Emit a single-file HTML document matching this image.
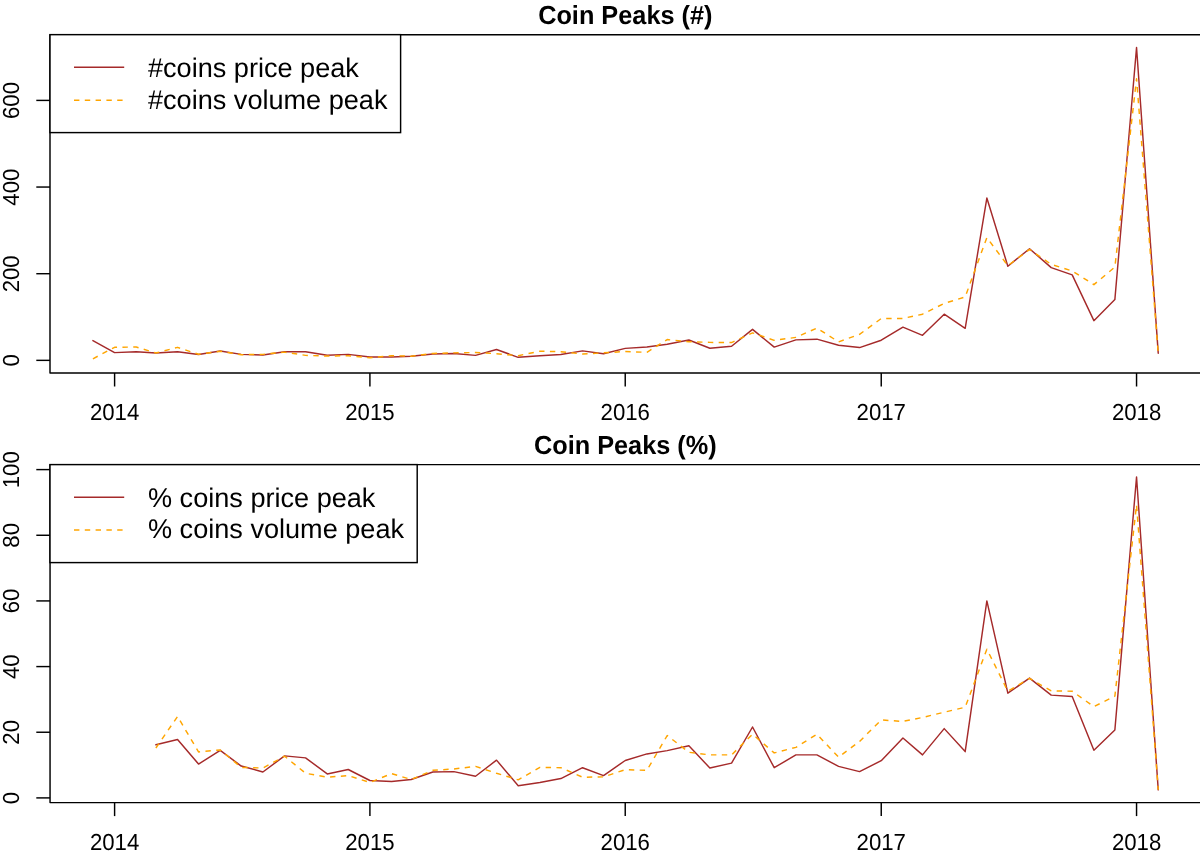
<!DOCTYPE html>
<html><head><meta charset="utf-8"><title>Coin Peaks</title>
<style>
html,body{margin:0;padding:0;background:#fff;}
body{width:1200px;height:857px;overflow:hidden;}
svg{display:block;font-family:"Liberation Sans", sans-serif;will-change:transform;text-rendering:geometricPrecision;}
</style></head>
<body>
<svg width="1200" height="857" viewBox="0 0 1200 857">
<rect width="1200" height="857" fill="#fff"/>
<path d="M1201 34.65 H50.0 V373.0 H1201" fill="none" stroke="#000" stroke-width="1.45" stroke-linejoin="round"/>
<line x1="36.3" y1="360.35" x2="50.0" y2="360.35" stroke="#000" stroke-width="1.45"/>
<text transform="translate(18.75 360.45) rotate(-90) scale(1 1.045)" text-anchor="middle" font-size="22.2">0</text>
<line x1="36.3" y1="273.70" x2="50.0" y2="273.70" stroke="#000" stroke-width="1.45"/>
<text transform="translate(18.75 273.80) rotate(-90) scale(1 1.045)" text-anchor="middle" font-size="22.2">200</text>
<line x1="36.3" y1="187.05" x2="50.0" y2="187.05" stroke="#000" stroke-width="1.45"/>
<text transform="translate(18.75 187.15) rotate(-90) scale(1 1.045)" text-anchor="middle" font-size="22.2">400</text>
<line x1="36.3" y1="100.40" x2="50.0" y2="100.40" stroke="#000" stroke-width="1.45"/>
<text transform="translate(18.75 100.50) rotate(-90) scale(1 1.045)" text-anchor="middle" font-size="22.2">600</text>
<line x1="114.60" y1="373.0" x2="114.60" y2="386.5" stroke="#000" stroke-width="1.45"/>
<text transform="translate(114.60 420.20) scale(1 1.045)" text-anchor="middle" font-size="22.2">2014</text>
<line x1="369.91" y1="373.0" x2="369.91" y2="386.5" stroke="#000" stroke-width="1.45"/>
<text transform="translate(369.91 420.20) scale(1 1.045)" text-anchor="middle" font-size="22.2">2015</text>
<line x1="625.23" y1="373.0" x2="625.23" y2="386.5" stroke="#000" stroke-width="1.45"/>
<text transform="translate(625.23 420.20) scale(1 1.045)" text-anchor="middle" font-size="22.2">2016</text>
<line x1="881.24" y1="373.0" x2="881.24" y2="386.5" stroke="#000" stroke-width="1.45"/>
<text transform="translate(881.24 420.20) scale(1 1.045)" text-anchor="middle" font-size="22.2">2017</text>
<line x1="1136.55" y1="373.0" x2="1136.55" y2="386.5" stroke="#000" stroke-width="1.45"/>
<text transform="translate(1136.55 420.20) scale(1 1.045)" text-anchor="middle" font-size="22.2">2018</text>
<text transform="translate(625.3 23.80) scale(1 1.035)" text-anchor="middle" font-size="25.3" font-weight="bold">Coin Peaks (#)</text>
<polyline points="92.92,340.59 114.60,352.64 136.28,351.69 155.87,352.98 177.55,351.69 198.54,354.46 220.22,350.95 241.21,354.37 262.89,355.02 284.58,351.69 305.56,351.69 327.24,355.24 348.23,354.37 369.91,357.01 391.60,357.01 411.18,356.19 432.87,354.02 453.85,353.42 475.54,355.37 496.52,349.52 518.21,357.32 539.89,355.67 560.87,354.54 582.56,350.86 603.54,353.68 625.23,348.35 646.91,347.01 667.20,344.19 688.88,340.03 709.87,348.22 731.55,346.27 752.53,329.37 774.22,347.09 795.90,339.86 816.89,339.16 838.57,345.19 859.56,347.57 881.24,340.20 902.93,327.16 922.51,335.35 944.20,314.17 965.18,328.29 986.86,198.05 1007.85,266.25 1029.53,248.70 1051.22,267.63 1072.20,274.87 1093.89,320.66 1114.87,299.57 1136.55,47.54 1158.24,353.16" fill="none" stroke="#A52A2A" stroke-width="1.45" stroke-linejoin="round" stroke-linecap="round"/>
<polyline points="92.92,358.79 114.60,347.27 136.28,347.05 155.87,352.98 177.55,347.35 198.54,354.28 220.22,351.25 241.21,354.72 262.89,354.37 284.58,352.12 305.56,355.37 327.24,356.06 348.23,355.67 369.91,357.75 391.60,355.67 411.18,356.19 432.87,353.42 453.85,352.85 475.54,352.55 496.52,353.68 518.21,355.67 539.89,351.25 560.87,351.69 582.56,354.02 603.54,352.85 625.23,351.51 646.91,352.33 667.20,339.55 688.88,341.72 709.87,342.37 731.55,342.59 752.53,332.84 774.22,340.33 795.90,337.39 816.89,328.07 838.57,341.85 859.56,334.36 881.24,318.54 902.93,318.45 922.51,314.17 944.20,303.38 965.18,296.97 986.86,237.57 1007.85,265.68 1029.53,249.44 1051.22,264.39 1072.20,270.97 1093.89,284.66 1114.87,267.07 1136.55,78.74 1158.24,353.42" fill="none" stroke="#FFA500" stroke-width="1.45" stroke-dasharray="5.4 5.4" stroke-linejoin="round"/>
<rect x="50" y="34.65" width="350.60" height="97.95" fill="#fff" stroke="#000" stroke-width="1.45"/>
<line x1="74" y1="67.30" x2="124.2" y2="67.30" stroke="#A52A2A" stroke-width="1.45"/>
<line x1="74" y1="100.20" x2="124.2" y2="100.20" stroke="#FFA500" stroke-width="1.45" stroke-dasharray="5.4 5.4"/>
<text x="148" y="77.30" font-size="27.1">#coins price peak</text>
<text x="148" y="109.30" font-size="27.1">#coins volume peak</text>
<path d="M1201 464.6 H50.05 V802.6 H1201" fill="none" stroke="#000" stroke-width="1.45" stroke-linejoin="round"/>
<line x1="36.3" y1="797.90" x2="50.05" y2="797.90" stroke="#000" stroke-width="1.45"/>
<text transform="translate(18.75 798.00) rotate(-90) scale(1 1.045)" text-anchor="middle" font-size="22.2">0</text>
<line x1="36.3" y1="732.24" x2="50.05" y2="732.24" stroke="#000" stroke-width="1.45"/>
<text transform="translate(18.75 732.34) rotate(-90) scale(1 1.045)" text-anchor="middle" font-size="22.2">20</text>
<line x1="36.3" y1="666.58" x2="50.05" y2="666.58" stroke="#000" stroke-width="1.45"/>
<text transform="translate(18.75 666.68) rotate(-90) scale(1 1.045)" text-anchor="middle" font-size="22.2">40</text>
<line x1="36.3" y1="600.92" x2="50.05" y2="600.92" stroke="#000" stroke-width="1.45"/>
<text transform="translate(18.75 601.02) rotate(-90) scale(1 1.045)" text-anchor="middle" font-size="22.2">60</text>
<line x1="36.3" y1="535.26" x2="50.05" y2="535.26" stroke="#000" stroke-width="1.45"/>
<text transform="translate(18.75 535.36) rotate(-90) scale(1 1.045)" text-anchor="middle" font-size="22.2">80</text>
<line x1="36.3" y1="469.60" x2="50.05" y2="469.60" stroke="#000" stroke-width="1.45"/>
<text transform="translate(18.75 469.70) rotate(-90) scale(1 1.045)" text-anchor="middle" font-size="22.2">100</text>
<line x1="114.60" y1="802.6" x2="114.60" y2="816.1" stroke="#000" stroke-width="1.45"/>
<text transform="translate(114.60 849.80) scale(1 1.045)" text-anchor="middle" font-size="22.2">2014</text>
<line x1="369.91" y1="802.6" x2="369.91" y2="816.1" stroke="#000" stroke-width="1.45"/>
<text transform="translate(369.91 849.80) scale(1 1.045)" text-anchor="middle" font-size="22.2">2015</text>
<line x1="625.23" y1="802.6" x2="625.23" y2="816.1" stroke="#000" stroke-width="1.45"/>
<text transform="translate(625.23 849.80) scale(1 1.045)" text-anchor="middle" font-size="22.2">2016</text>
<line x1="881.24" y1="802.6" x2="881.24" y2="816.1" stroke="#000" stroke-width="1.45"/>
<text transform="translate(881.24 849.80) scale(1 1.045)" text-anchor="middle" font-size="22.2">2017</text>
<line x1="1136.55" y1="802.6" x2="1136.55" y2="816.1" stroke="#000" stroke-width="1.45"/>
<text transform="translate(1136.55 849.80) scale(1 1.045)" text-anchor="middle" font-size="22.2">2018</text>
<text transform="translate(625.3 454.20) scale(1 1.035)" text-anchor="middle" font-size="25.3" font-weight="bold">Coin Peaks (%)</text>
<polyline points="155.87,744.72 177.55,739.46 198.54,764.09 220.22,750.30 241.21,766.05 262.89,771.96 284.58,755.88 305.56,757.85 327.24,773.93 348.23,769.50 369.91,780.50 391.60,781.49 411.18,779.52 432.87,771.96 453.85,771.64 475.54,776.23 496.52,760.15 518.21,785.75 539.89,782.47 560.87,778.53 582.56,767.70 603.54,775.58 625.23,760.47 646.91,753.91 667.20,750.62 688.88,745.70 709.87,768.02 731.55,763.10 752.53,726.99 774.22,767.70 795.90,754.89 816.89,754.89 838.57,766.38 859.56,771.64 881.24,760.64 902.93,737.99 922.51,754.89 944.20,728.63 965.18,751.61 986.86,600.92 1007.85,693.17 1029.53,678.07 1051.22,695.14 1072.20,696.46 1093.89,750.30 1114.87,729.94 1136.55,477.02 1158.24,789.89" fill="none" stroke="#A52A2A" stroke-width="1.45" stroke-linejoin="round" stroke-linecap="round"/>
<polyline points="155.87,748.00 177.55,716.48 198.54,751.94 220.22,749.97 241.21,767.37 262.89,768.02 284.58,756.21 305.56,773.28 327.24,777.22 348.23,775.58 369.91,782.47 391.60,773.61 411.18,779.52 432.87,770.32 453.85,769.01 475.54,766.38 496.52,773.28 518.21,779.84 539.89,767.37 560.87,767.70 582.56,777.22 603.54,776.89 625.23,769.67 646.91,770.32 667.20,735.52 688.88,752.27 709.87,754.89 731.55,754.89 752.53,734.21 774.22,752.92 795.90,747.34 816.89,734.21 838.57,757.19 859.56,741.43 881.24,719.93 902.93,721.41 922.51,717.47 944.20,712.21 965.18,707.29 986.86,649.18 1007.85,691.20 1029.53,678.40 1051.22,690.87 1072.20,691.20 1093.89,706.63 1114.87,696.13 1136.55,504.73 1158.24,789.69" fill="none" stroke="#FFA500" stroke-width="1.45" stroke-dasharray="5.4 5.4" stroke-linejoin="round"/>
<rect x="50" y="464.6" width="367.20" height="98.00" fill="#fff" stroke="#000" stroke-width="1.45"/>
<line x1="74" y1="497.20" x2="124.2" y2="497.20" stroke="#A52A2A" stroke-width="1.45"/>
<line x1="74" y1="529.90" x2="124.2" y2="529.90" stroke="#FFA500" stroke-width="1.45" stroke-dasharray="5.4 5.4"/>
<text x="148" y="506.60" font-size="27.1">% coins price peak</text>
<text x="148" y="538.10" font-size="27.1">% coins volume peak</text>
</svg>
</body></html>
